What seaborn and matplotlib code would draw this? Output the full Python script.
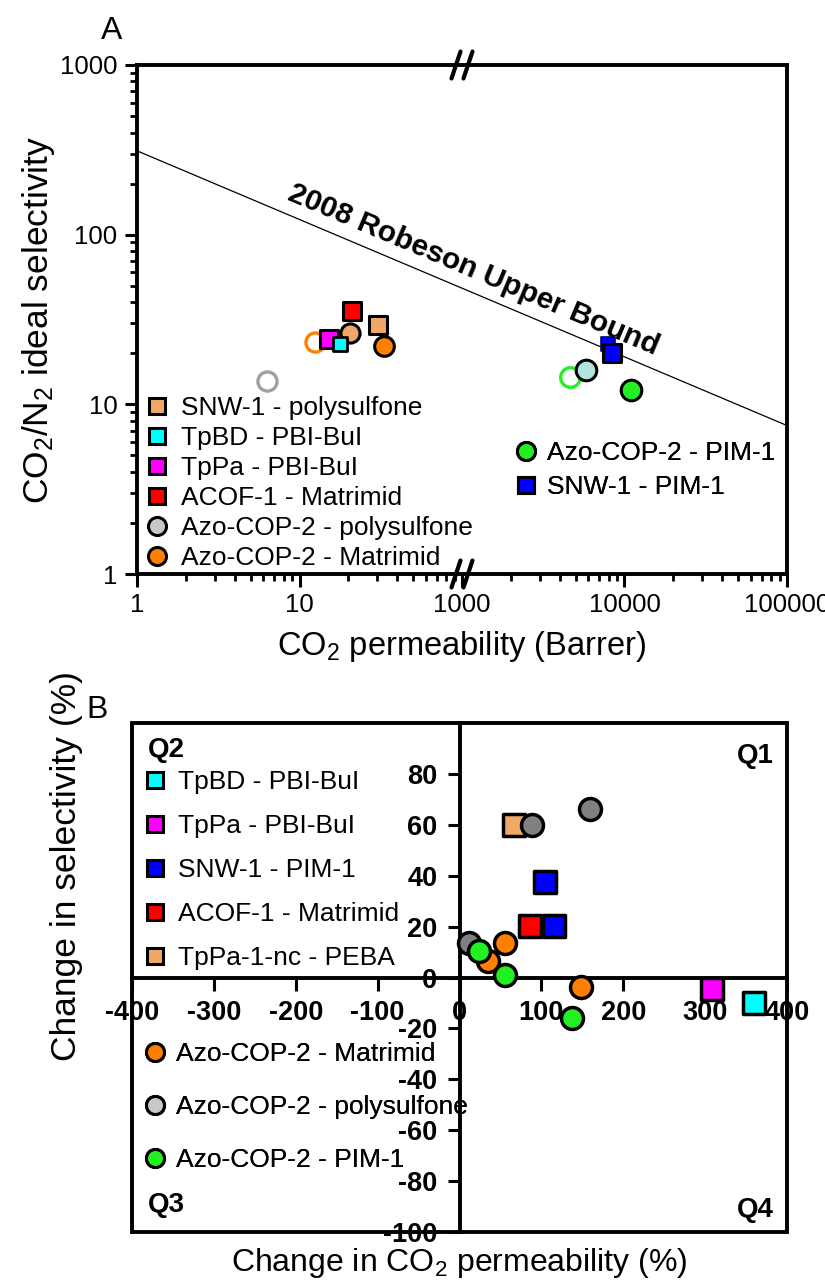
import numpy as np
import pandas as pd
import matplotlib
matplotlib.use("Agg")
import matplotlib.pyplot as plt
import seaborn as sns
from matplotlib.lines import Line2D
from matplotlib.patches import Rectangle
from matplotlib.ticker import FixedLocator, FixedFormatter, NullFormatter

sns.set_style("ticks")
plt.rcParams['font.family'] = ['Liberation Sans', 'DejaVu Sans']
plt.rcParams['mathtext.fontset'] = 'custom'
plt.rcParams['mathtext.rm'] = 'Liberation Sans'
plt.rcParams['mathtext.it'] = 'Liberation Sans:italic'
plt.rcParams['mathtext.bf'] = 'Liberation Sans:bold'
for k in ("text.color", "axes.labelcolor", "xtick.color", "ytick.color", "axes.edgecolor"):
    plt.rcParams[k] = "black"

# ---------------- Panel A data (CO2 permeability in Barrer, CO2/N2 selectivity)
a_series = ["mat_pure", "psf_pure", "tppa_pbi", "azo_psf", "tpbd_pbi", "acof1_mat",
            "snw1_psf", "azo_mat", "pim_pure", "azo_pim_pale", "snw1_pim_b",
            "snw1_pim", "azo_pim"]
a_perm = [12.5, 6.3, 15.2, 20.5, 17.7, 21.0, 30.4, 33.0, 4630, 5800, 7950, 8380, 11000]
a_sel = [23.2, 13.8, 24.4, 26.5, 22.8, 35.3, 29.2, 22.2, 14.4, 15.9, 22.8, 20.0, 12.1]

robeson_perm = [1, 100000]
robeson_sel = [312, 7.5]

a_ticks = [1, 10, 1000, 10000, 100000]
a_tick_labels = ["1", "10", "1000", "10000", "100000"]
a_yticks = [1, 10, 100, 1000]
a_ytick_labels = ["1", "10", "100", "1000"]

legA1_labels = ["SNW-1 - polysulfone", "TpBD - PBI-BuI", "TpPa - PBI-BuI",
                "ACOF-1 - Matrimid", "Azo-COP-2 - polysulfone", "Azo-COP-2 - Matrimid"]
legA2_labels = ["Azo-COP-2 - PIM-1", "SNW-1 - PIM-1"]

# ---------------- Panel B data (% change)
b_series = ["tan", "grey", "grey", "grey", "blue", "blue", "red",
            "orange", "orange", "orange", "green", "green", "green", "magenta", "cyan"]
b_perm = [66, 88, 159, 11, 105, 115, 85.5, 35.4, 56, 148, 24.4, 56, 137, 308, 360]
b_sel = [60, 60, 66.3, 13.7, 37.6, 20.4, 20.4, 6.3, 13.7, -3.9, 10.6, 0.8, -16, -4.7, -10.2]

b_xticks = [-400, -300, -200, -100, 0, 100, 200, 300, 400]
b_yticks = [-100, -80, -60, -40, -20, 0, 20, 40, 60, 80]

legB1_labels = ["TpBD - PBI-BuI", "TpPa - PBI-BuI", "SNW-1 - PIM-1",
                "ACOF-1 - Matrimid", "TpPa-1-nc - PEBA"]
legB2_labels = ["Azo-COP-2 - Matrimid", "Azo-COP-2 - polysulfone", "Azo-COP-2 - PIM-1"]

# ---------------- colours / styles
TAN = "#f0a868"
ORANGE = "#ff8000"
CYAN = "#00ffff"
MAG = "#ff00ff"
RED = "#ff0000"
BLUE = "#0000ff"
GREEN = "#22f022"
LGREY = "#c8c8c8"
DGREY = "#808080"
PALE = "#b4e4e0"

styleA = {
    "mat_pure": dict(marker="o", face="white", edge=ORANGE, s=190, lw=2.4, z=3),
    "psf_pure": dict(marker="o", face="white", edge="#a0a0a0", s=190, lw=2.4, z=3),
    "tppa_pbi": dict(marker="s", face=MAG, edge="black", s=150, lw=2.2, z=4),
    "azo_psf": dict(marker="o", face=TAN, edge="black", s=190, lw=2.2, z=4),
    "tpbd_pbi": dict(marker="s", face=CYAN, edge="black", s=90, lw=2.0, z=5),
    "acof1_mat": dict(marker="s", face=RED, edge="black", s=170, lw=2.2, z=4),
    "snw1_psf": dict(marker="s", face=TAN, edge="black", s=170, lw=2.2, z=4),
    "azo_mat": dict(marker="o", face=ORANGE, edge="black", s=200, lw=2.2, z=4),
    "pim_pure": dict(marker="o", face="white", edge=GREEN, s=200, lw=2.4, z=3),
    "azo_pim_pale": dict(marker="o", face=PALE, edge="black", s=220, lw=2.2, z=4),
    "snw1_pim_b": dict(marker="s", face=BLUE, edge="#000080", s=110, lw=1.2, z=3),
    "snw1_pim": dict(marker="s", face=BLUE, edge="black", s=150, lw=2.2, z=4),
    "azo_pim": dict(marker="o", face=GREEN, edge="black", s=220, lw=2.2, z=4),
}
styleB = {
    "tan": dict(marker="s", face=TAN, s=230, z=3),
    "grey": dict(marker="o", face=DGREY, s=250, z=4),
    "blue": dict(marker="s", face=BLUE, s=230, z=3),
    "red": dict(marker="s", face=RED, s=230, z=3),
    "orange": dict(marker="o", face=ORANGE, s=250, z=5),
    "green": dict(marker="o", face=GREEN, s=250, z=6),
    "magenta": dict(marker="s", face=MAG, s=230, z=3),
    "cyan": dict(marker="s", face=CYAN, s=230, z=3),
}

W, H = 825, 1284
fig = plt.figure(figsize=(W / 100, H / 100), dpi=100)
fig.patch.set_facecolor("white")

# ================= Panel A =================
axA = fig.add_axes([137 / W, 1 - 574 / H, 650 / W, 509 / H])
dfA = pd.DataFrame({"series": a_series, "perm": a_perm, "sel": a_sel})

sns.lineplot(x=robeson_perm, y=robeson_sel, ax=axA, color="black", linewidth=0.9)
for key, grp in dfA.groupby("series", sort=False):
    st = styleA[key]
    sns.scatterplot(data=grp, x="perm", y="sel", ax=axA, marker=st["marker"], s=st["s"],
                    color=st["face"], edgecolor=st["edge"], linewidth=st["lw"],
                    zorder=st["z"], legend=False)


def fwd(x):
    x = np.asarray(x, dtype=float)
    lx = np.log10(np.where(x > 0, x, 1e-300))
    return np.where(x <= 100, lx, np.where(x >= 1000, lx - 1.0, 2.0))


def inv(y):
    y = np.asarray(y, dtype=float)
    return np.where(y <= 2, 10.0 ** y, 10.0 ** (y + 1))


axA.set_xscale("function", functions=(fwd, inv))
axA.set_yscale("log")
axA.set_xlim(1, 100000)
axA.set_ylim(1, 1000)

axA.xaxis.set_major_locator(FixedLocator(a_ticks))
axA.xaxis.set_major_formatter(FixedFormatter(a_tick_labels))
minors = [k * 10 ** d for d in (0, 1, 3, 4) for k in range(2, 10)]
axA.xaxis.set_minor_locator(FixedLocator(minors))
axA.xaxis.set_minor_formatter(NullFormatter())
axA.yaxis.set_major_locator(FixedLocator(a_yticks))
axA.yaxis.set_major_formatter(FixedFormatter(a_ytick_labels))
yminors = [k * 10 ** d for d in (0, 1, 2) for k in range(2, 10)]
axA.yaxis.set_minor_locator(FixedLocator(yminors))
axA.yaxis.set_minor_formatter(NullFormatter())

axA.tick_params(axis="both", which="major", direction="out", length=9, width=2.2,
                labelsize=18.5, pad=5, top=False, right=False)
axA.tick_params(axis="both", which="minor", direction="out", length=5, width=2.0,
                top=False, right=False)
for sp in axA.spines.values():
    sp.set_linewidth(2.8)

axA.set_xlabel("CO$_2$ permeability (Barrer)", fontsize=23.5, labelpad=8)
axA.set_ylabel("CO$_2$/N$_2$ ideal selectivity", fontsize=25.5, labelpad=2)

# axis break marks
for yb in (0, 1):
    for dx in (-6, 6):
        x0 = 0.5 + (dx - 4.5) / 650
        x1 = 0.5 + (dx + 4.5) / 650
        axA.plot([x0, x1], [yb - 13.5 / 509, yb + 13.5 / 509], transform=axA.transAxes,
                 color="black", lw=3.0, clip_on=False, solid_capstyle="round", zorder=10)

# Robeson label
p = axA.transData.transform(np.column_stack([robeson_perm, robeson_sel]))
ang = np.degrees(np.arctan2(p[1, 1] - p[0, 1], p[1, 0] - p[0, 0]))
axA.text(0.517, 0.598, "2008 Robeson Upper Bound", transform=axA.transAxes,
         rotation=ang, rotation_mode="anchor", ha="center", va="center",
         fontsize=21.5, fontweight="bold", zorder=6)

hA1 = [
    Line2D([], [], ls="none", marker="s", ms=12, mfc=TAN, mec="black", mew=2.2),
    Line2D([], [], ls="none", marker="s", ms=12, mfc=CYAN, mec="black", mew=2.2),
    Line2D([], [], ls="none", marker="s", ms=12, mfc=MAG, mec="black", mew=2.2),
    Line2D([], [], ls="none", marker="s", ms=12, mfc=RED, mec="black", mew=2.2),
    Line2D([], [], ls="none", marker="o", ms=13, mfc=LGREY, mec="black", mew=2.2),
    Line2D([], [], ls="none", marker="o", ms=13, mfc=ORANGE, mec="black", mew=2.2),
]
legA1 = axA.legend(hA1, legA1_labels, loc="upper left", bbox_to_anchor=(0.0108, 0.350),
                   bbox_transform=axA.transAxes, frameon=False, fontsize=19,
                   handlelength=1.0, handletextpad=0.4, labelspacing=0.23,
                   borderpad=0, borderaxespad=0)
axA.add_artist(legA1)
hA2 = [
    Line2D([], [], ls="none", marker="o", ms=13, mfc=GREEN, mec="black", mew=2.2),
    Line2D([], [], ls="none", marker="s", ms=12, mfc=BLUE, mec="black", mew=2.2),
]
legA2 = axA.legend(hA2, legA2_labels, loc="upper left", bbox_to_anchor=(0.578, 0.261),
                   bbox_transform=axA.transAxes, frameon=False, fontsize=19,
                   handlelength=1.0, handletextpad=0.3, labelspacing=0.38,
                   borderpad=0, borderaxespad=0)
axA.add_artist(legA2)

fig.text(112 / W, 1 - 31 / H, "A", fontsize=23, ha="center", va="center")

# ================= Panel B =================
axB = fig.add_axes([132 / W, 1 - 1232 / H, 655 / W, 509 / H])
dfB = pd.DataFrame({"series": b_series, "perm": b_perm, "sel": b_sel})
for key, grp in dfB.groupby("series", sort=False):
    st = styleB[key]
    sns.scatterplot(data=grp, x="perm", y="sel", ax=axB, marker=st["marker"], s=st["s"],
                    color=st["face"], edgecolor="black", linewidth=2.5,
                    zorder=st["z"], legend=False, clip_on=False)

axB.set_xlim(-400, 400)
axB.set_ylim(-100, 100)
axB.spines["left"].set_position(("data", 0))
axB.spines["bottom"].set_position(("data", 0))
axB.spines["top"].set_visible(False)
axB.spines["right"].set_visible(False)
for sp in ("left", "bottom"):
    axB.spines[sp].set_linewidth(2.8)
axB.add_patch(Rectangle((0, 0), 1, 1, transform=axB.transAxes, fill=False,
                        lw=2.8, edgecolor="black", clip_on=False, zorder=2))
axB.set_xticks(b_xticks)
axB.set_xticklabels([str(v) for v in b_xticks])
axB.set_yticks(b_yticks)
axB.set_yticklabels([str(v) for v in b_yticks])
axB.tick_params(axis="both", direction="out", length=9, width=2.2, labelsize=19.5, pad=7)
for lab in axB.get_xticklabels() + axB.get_yticklabels():
    lab.set_fontweight("bold")

axB.set_xlabel("Change in CO$_2$ permeability (%)", fontsize=23)
axB.xaxis.set_label_coords(0.5, -0.028)
axB.set_ylabel("Change in selectivity (%)", fontsize=25.5)
axB.yaxis.set_label_coords(-0.075, 0.72)

for txt, x, y, ha in (("Q2", 0.024, 0.947, "left"), ("Q1", 0.98, 0.935, "right"),
                      ("Q3", 0.024, 0.053, "left"), ("Q4", 0.98, 0.043, "right")):
    axB.text(x, y, txt, transform=axB.transAxes, fontsize=20, fontweight="bold",
             ha=ha, va="center")

hB1 = [
    Line2D([], [], ls="none", marker="s", ms=12, mfc=CYAN, mec="black", mew=2.2),
    Line2D([], [], ls="none", marker="s", ms=12, mfc=MAG, mec="black", mew=2.2),
    Line2D([], [], ls="none", marker="s", ms=12, mfc=BLUE, mec="black", mew=2.2),
    Line2D([], [], ls="none", marker="s", ms=12, mfc=RED, mec="black", mew=2.2),
    Line2D([], [], ls="none", marker="s", ms=12, mfc=TAN, mec="black", mew=2.2),
]
legB1 = axB.legend(hB1, legB1_labels, loc="upper left", bbox_to_anchor=(0.0153, 0.908),
                   bbox_transform=axB.transAxes, frameon=False, fontsize=19,
                   handlelength=1.0, handletextpad=0.36, labelspacing=0.76,
                   borderpad=0, borderaxespad=0)
axB.add_artist(legB1)
hB2 = [
    Line2D([], [], ls="none", marker="o", ms=13, mfc=ORANGE, mec="black", mew=2.2),
    Line2D([], [], ls="none", marker="o", ms=13, mfc=LGREY, mec="black", mew=2.2),
    Line2D([], [], ls="none", marker="o", ms=13, mfc=GREEN, mec="black", mew=2.2),
]
legB2 = axB.legend(hB2, legB2_labels, loc="upper left", bbox_to_anchor=(0.0153, 0.373),
                   bbox_transform=axB.transAxes, frameon=False, fontsize=19,
                   handlelength=1.0, handletextpad=0.3, labelspacing=1.1,
                   borderpad=0, borderaxespad=0)
axB.add_artist(legB2)

fig.text(97 / W, 1 - 710 / H, "B", fontsize=23, ha="center", va="center")

fig.savefig("out.png", dpi=100, facecolor="white")
